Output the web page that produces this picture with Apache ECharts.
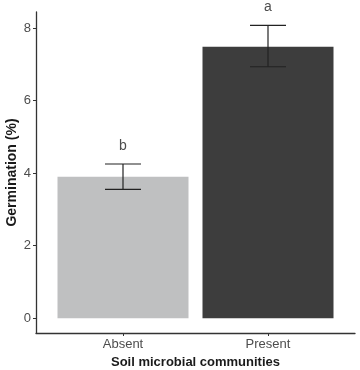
<!DOCTYPE html>
<html>
<head>
<meta charset="UTF-8">
<title>germination</title>
<script src="https://cdn.jsdelivr.net/npm/echarts@6/dist/echarts.min.js"></script>
<style>
  html, body { margin: 0; padding: 0; background: #fff; }
  #main { width: 360px; height: 370px; }
</style>
</head>
<body>
<div id="main"></div>
<script>
// data
var categories = ['Absent', 'Present'];
var means = [3.9, 7.48];
var errLow = [3.55, 6.93];
var errHigh = [4.25, 8.07];
var letters = ['b', 'a'];
var barColors = ['#bfc0c1', '#3d3d3d'];
var yTicks = [0, 2, 4, 6, 8];

var font = 'Liberation Sans, Arial, sans-serif';

var barData = means.map(function (v, i) {
    return { value: [i + 1, v], itemStyle: { color: barColors[i] } };
});
var errData = means.map(function (v, i) {
    return [i + 1, errLow[i], errHigh[i]];
});
var letterData = means.map(function (v, i) {
    return [i + 1, errHigh[i]];
});

var chart = echarts.init(document.getElementById('main'));
var option = {
    animation: false,
    grid: { left: 36, right: 5, top: 12, bottom: 37, outerBoundsMode: 'none', containLabel: false },
    xAxis: {
        type: 'value',
        min: 0.4,
        max: 2.6,
        name: 'Soil microbial communities',
        nameLocation: 'middle',
        nameGap: 22,
        nameTextStyle: { fontFamily: font, fontSize: 13, fontWeight: 'bold', color: '#1a1a1a' },
        axisLine: { onZero: false, lineStyle: { color: '#333', width: 1.3 } },
        axisTick: { show: true, length: 3, customValues: [1, 2], lineStyle: { color: '#333' } },
        axisLabel: {
            customValues: [1, 2],
            formatter: function (v) { return categories[Math.round(v) - 1] || ''; },
            fontFamily: font, fontSize: 13, color: '#4d4d4d', margin: 5
        },
        splitLine: { show: false }
    },
    yAxis: {
        type: 'value',
        min: -0.41,
        max: 8.44,
        name: 'Germination (%)',
        nameLocation: 'middle',
        nameGap: 17,
        nameMoveOverlap: false,
        nameTextStyle: { fontFamily: font, fontSize: 14, fontWeight: 'bold', color: '#1a1a1a' },
        axisLine: { show: true, onZero: false, lineStyle: { color: '#333', width: 1.3 } },
        axisTick: { show: true, length: 3, customValues: yTicks, lineStyle: { color: '#333' } },
        axisLabel: {
            customValues: yTicks,
            fontFamily: font, fontSize: 13, color: '#4d4d4d', margin: 5
        },
        splitLine: { show: false }
    },
    series: [
        {
            type: 'bar',
            data: barData,
            barWidth: 131,
            z: 2
        },
        {
            type: 'custom',
            data: errData,
            z: 5,
            renderItem: function (params, api) {
                var x = api.value(0);
                var lo = api.coord([x, api.value(1)]);
                var hi = api.coord([x, api.value(2)]);
                var half = 18;
                var style = { stroke: '#222', lineWidth: 1.2 };
                return {
                    type: 'group',
                    children: [
                        { type: 'line', shape: { x1: lo[0], y1: lo[1], x2: hi[0], y2: hi[1] }, style: style },
                        { type: 'line', shape: { x1: lo[0] - half, y1: lo[1], x2: lo[0] + half, y2: lo[1] }, style: style },
                        { type: 'line', shape: { x1: hi[0] - half, y1: hi[1], x2: hi[0] + half, y2: hi[1] }, style: style }
                    ]
                };
            }
        },
        {
            type: 'custom',
            data: letterData,
            z: 5,
            renderItem: function (params, api) {
                var p = api.coord([api.value(0), api.value(1)]);
                return {
                    type: 'text',
                    x: p[0],
                    y: p[1] - 18,
                    style: {
                        text: letters[params.dataIndex],
                        fontFamily: font, fontSize: 14, fill: '#4d4d4d',
                        align: 'center', verticalAlign: 'middle'
                    }
                };
            }
        }
    ]
};
chart.setOption(option);
</script>
</body>
</html>
